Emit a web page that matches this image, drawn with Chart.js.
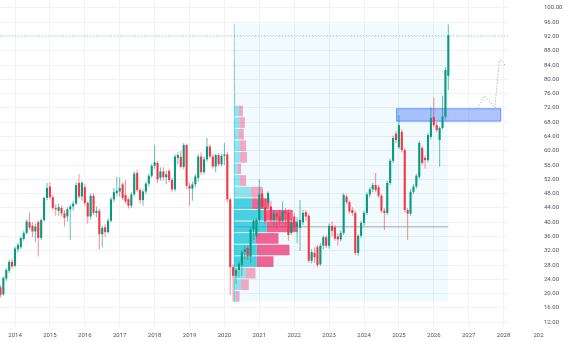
<!DOCTYPE html>
<html>
<head>
<meta charset="utf-8">
<script src="https://cdn.jsdelivr.net/npm/chart.js@4.4.1/dist/chart.umd.min.js"></script>
<style>
  html, body { margin: 0; padding: 0; background: #fff; }
  #wrap { width: 565px; height: 342px; position: relative; }
</style>
</head>
<body>
<div id="wrap"><canvas id="chart"></canvas></div>
<script>
// Monthly candles, first bar = Aug 2013
const firstMonth = 2013 + 7 / 12;

const open = [
  21.8, 19.8, 24.2, 26.4, 28.9,
  27.8, 32.4, 33.0, 35.3, 37.0, 40.0, 39.0, 37.4, 40.0, 35.6, 40.6, 46.8,
  50.0, 47.0, 44.0, 43.2, 44.0, 42.5, 41.6, 43.6, 44.4, 45.2, 51.0, 47.2,
  49.8, 45.4, 41.6, 47.4, 42.6, 43.2, 36.6, 38.6, 37.2, 40.4, 46.4, 48.2,
  48.6, 50.6, 47.6, 46.4, 44.6, 47.8, 53.8, 49.0, 46.2, 48.6, 50.8, 53.0,
  55.8, 56.6, 52.4, 54.2, 52.6, 54.4, 51.8, 49.2, 58.0, 58.3, 55.5, 61.6,
  50.2, 49.4, 50.6, 52.4, 58.4, 54.0, 57.6, 61.2, 58.4, 55.6, 58.8, 56.2,
  58.6, 59.0, 46.4, 27.4, 25.0, 26.6, 28.0, 31.6, 32.8, 30.4, 38.0, 36.2,
  40.6, 48.0, 44.2, 45.4, 44.4, 40.6, 42.4, 41.6, 40.4, 43.0, 42.6, 37.0,
  41.6, 38.8, 38.4, 40.0, 42.8, 41.8, 29.2, 31.4, 33.0, 28.2, 33.4, 35.8,
  33.4, 39.0, 38.6, 36.0, 35.2, 37.0, 47.2, 45.6, 43.4, 42.6, 31.4, 36.2,
  39.8, 42.6, 47.8, 49.2, 50.4, 49.8, 47.4, 43.2, 42.6, 51.0, 57.2, 64.8,
  61.0, 65.3, 60.2, 43.4, 42.4, 48.5, 50.0, 52.7, 60.8, 58.0, 57.4, 63.9,
  69.5, 67.2, 63.0, 66.4, 69.6, 81.0
];
const high = [
  22.4, 24.8, 27.2, 29.5, 29.8,
  33.2, 34.2, 36.0, 37.6, 40.8, 42.8, 40.0, 39.6, 40.6, 41.0, 47.2, 51.0,
  51.2, 47.6, 45.0, 45.2, 44.6, 43.4, 44.2, 45.0, 46.0, 51.2, 53.4, 51.6,
  50.6, 46.0, 48.0, 48.2, 44.4, 43.8, 39.0, 39.4, 41.0, 47.0, 49.6, 52.7,
  52.6, 51.2, 51.8, 47.0, 48.4, 54.2, 54.6, 49.6, 49.2, 51.4, 53.6, 56.4,
  61.6, 57.2, 55.4, 55.4, 54.4, 55.0, 52.4, 59.0, 59.6, 60.0, 62.2, 62.0,
  51.0, 51.4, 53.4, 59.0, 59.6, 58.4, 63.6, 61.8, 59.0, 59.2, 59.4, 59.2,
  62.2, 59.6, 46.8, 28.2, 27.4, 29.0, 32.2, 33.4, 33.6, 38.6, 40.8, 41.2,
  52.0, 49.2, 46.4, 48.6, 46.0, 43.4, 43.0, 43.4, 45.8, 44.0, 43.6, 41.0,
  42.6, 41.4, 46.2, 43.4, 43.4, 42.4, 32.4, 33.0, 33.6, 34.2, 36.2, 36.4,
  39.6, 40.2, 39.2, 36.8, 37.6, 48.2, 47.8, 46.0, 44.2, 43.2, 36.6, 40.4,
  43.2, 48.4, 49.8, 51.0, 53.8, 50.4, 48.0, 44.0, 51.6, 57.8, 64.2, 65.6,
  70.0, 66.0, 60.8, 44.0, 49.2, 50.6, 53.6, 62.8, 61.4, 58.6, 65.0, 72.3,
  75.0, 68.0, 66.8, 75.4, 83.4, 95.4
];
const low = [
  19.0, 19.4, 23.6, 25.8, 27.0,
  27.4, 31.5, 32.4, 34.8, 36.6, 37.8, 35.8, 34.5, 30.4, 35.0, 40.2, 46.2,
  46.4, 43.4, 41.8, 41.8, 41.6, 38.8, 40.2, 35.0, 43.2, 44.8, 46.6, 46.0,
  44.6, 39.6, 40.8, 42.0, 41.4, 32.4, 33.0, 35.8, 36.8, 40.0, 45.6, 47.4,
  47.2, 46.2, 45.2, 43.8, 44.0, 47.2, 48.4, 45.2, 44.6, 47.8, 50.0, 52.4,
  55.0, 51.0, 51.6, 51.6, 50.6, 51.2, 48.6, 48.6, 56.2, 55.2, 54.8, 49.4,
  44.6, 46.0, 49.8, 51.4, 53.2, 53.4, 57.0, 57.8, 55.0, 54.0, 55.6, 55.6,
  56.0, 45.6, 19.6, 17.8, 22.6, 24.6, 25.0, 29.6, 29.4, 28.6, 35.0, 35.4,
  40.0, 43.8, 39.6, 44.8, 40.0, 39.0, 38.2, 39.2, 39.6, 38.8, 34.8, 36.4,
  37.6, 34.2, 32.0, 39.2, 40.4, 28.6, 28.4, 28.6, 27.4, 27.8, 32.4, 32.8,
  32.6, 36.0, 34.8, 33.4, 34.6, 36.4, 45.0, 42.4, 41.8, 30.8, 30.6, 35.6,
  39.0, 42.0, 47.0, 48.4, 48.4, 46.8, 42.6, 37.8, 42.0, 50.4, 56.6, 62.2,
  60.4, 59.6, 42.8, 35.0, 41.8, 47.8, 49.4, 52.0, 56.0, 55.0, 56.8, 63.2,
  66.6, 65.2, 55.5, 66.0, 68.8, 77.0
];
const close = [
  19.6, 24.4, 26.6, 28.9, 27.6,
  32.6, 33.6, 35.6, 37.0, 40.2, 38.5, 37.4, 38.8, 35.6, 40.6, 46.8, 49.6,
  47.0, 44.0, 43.6, 44.2, 42.5, 41.2, 43.6, 44.4, 45.2, 50.4, 47.2, 51.0,
  45.4, 41.6, 47.4, 42.6, 43.2, 36.6, 38.4, 37.2, 40.4, 46.4, 48.4, 48.8,
  49.6, 46.8, 45.8, 44.6, 47.8, 53.6, 49.0, 46.2, 48.6, 50.8, 53.0, 55.8,
  56.8, 52.0, 54.2, 52.6, 53.4, 51.8, 49.2, 58.4, 58.8, 55.5, 61.6, 50.2,
  49.4, 50.6, 52.8, 58.4, 54.0, 57.6, 61.2, 58.4, 55.6, 58.8, 56.2, 58.6,
  59.0, 46.4, 27.4, 25.0, 26.6, 28.4, 31.6, 32.4, 30.4, 38.0, 40.4, 40.6,
  47.8, 44.2, 40.2, 48.2, 40.6, 42.4, 41.6, 40.2, 43.0, 42.4, 36.4, 39.8,
  38.8, 39.8, 40.6, 42.6, 41.6, 29.2, 31.6, 30.2, 28.0, 33.4, 35.8, 33.4,
  39.0, 37.6, 35.4, 35.2, 37.0, 47.6, 45.6, 43.0, 42.6, 31.4, 36.2, 39.8,
  42.6, 47.8, 49.2, 50.4, 49.0, 47.4, 43.2, 42.6, 51.0, 57.2, 63.6, 63.0,
  67.2, 60.2, 43.4, 42.4, 48.5, 50.0, 53.0, 62.2, 56.6, 57.4, 64.4, 69.2,
  67.2, 65.8, 66.4, 69.6, 82.6, 92.4
];
const months = open.map((_, i) => firstMonth + i / 12);
const lastClose = close[close.length - 1];

// Volume profile, rows from top to bottom
const vpRange = [17.6, 95.5];
const vpStart = 2020.27;
const volUp = [0.3, 0.3, 0.3, 0.6, 0.6, 0.6, 0.8, 5.0, 5.7, 5.0, 6.3, 6.3,
  4.0, 6.3, 17.3, 18.3, 30.7, 33.0, 21.7, 23.0, 23.0, 11.7, 7.3, 2.3];
const volDown = [0.2, 0.2, 0.2, 0.4, 0.4, 0.4, 0.6, 4.0, 5.3, 5.0, 6.0, 7.0,
  3.3, 6.0, 11.7, 17.4, 28.3, 31.0, 23.0, 32.7, 16.7, 10.0, 7.7, 3.4];
const valueAreaRows = [15, 20];

// Drawn zone and projected path
const zoneX = [2024.92, 2027.93];
const zoneY = [68.2, 71.9];
const pathX = [2027.26, 2027.45, 2027.75, 2027.88, 2027.97, 2028.04];
const pathY = [71.9, 75.4, 72.1, 85.4, 85.0, 84.0];

// Axis ticks
const priceTicks = [12, 16, 20, 24, 28, 32, 36, 40, 44, 48, 52, 56, 60, 64,
  68, 72, 76, 80, 84, 88, 92, 96, 100];
const yearTicks = [2014, 2015, 2016, 2017, 2018, 2019, 2020, 2021, 2022,
  2023, 2024, 2025, 2026, 2027, 2028, 2029];

const upColor = '#089981';
const downColor = '#f23645';
const gridColor = '#f0f2f5';
const labelFont = { family: 'Roboto', size: 6 };
const labelColor = '#50535e';

const rowH = (vpRange[1] - vpRange[0]) / volUp.length;
const rowCenter = i => vpRange[1] - (i + 0.5) * rowH;
const inValueArea = i => i >= valueAreaRows[0] && i <= valueAreaRows[1];
const totals = volUp.map((v, i) => v + volDown[i]);
const pocPrice = rowCenter(totals.indexOf(Math.max(...totals)));
const isUp = i => close[i] >= open[i];

const overlays = {
  id: 'overlays',
  beforeDatasetsDraw(chart) {
    const { ctx, chartArea, scales: { x, y } } = chart;
    ctx.save();
    // profile range background
    const bx0 = x.getPixelForValue(vpStart);
    const bx1 = x.getPixelForValue(months[months.length - 1]);
    const by0 = y.getPixelForValue(vpRange[1]);
    const by1 = y.getPixelForValue(vpRange[0]);
    ctx.fillStyle = 'rgba(0, 188, 212, 0.055)';
    ctx.fillRect(bx0, by0, bx1 - bx0, by1 - by0);
    ctx.strokeStyle = 'rgba(0, 188, 212, 0.3)';
    ctx.lineWidth = 1;
    ctx.beginPath();
    ctx.moveTo(Math.round(bx0) + 0.5, by0);
    ctx.lineTo(Math.round(bx0) + 0.5, by1);
    ctx.stroke();

    // last price line
    const py = Math.round(y.getPixelForValue(lastClose)) + 0.5;
    ctx.setLineDash([1, 2]);
    ctx.strokeStyle = 'rgba(8, 153, 129, 0.35)';
    ctx.beginPath();
    ctx.moveTo(chartArea.left, py);
    ctx.lineTo(chartArea.right, py);
    ctx.stroke();
    ctx.setLineDash([]);

    // zone rectangle
    const zx0 = x.getPixelForValue(zoneX[0]);
    const zx1 = x.getPixelForValue(zoneX[1]);
    const zy0 = y.getPixelForValue(zoneY[1]);
    const zy1 = y.getPixelForValue(zoneY[0]);
    ctx.fillStyle = 'rgba(41, 98, 255, 0.38)';
    ctx.fillRect(zx0, zy0, zx1 - zx0, zy1 - zy0);
    ctx.strokeStyle = 'rgba(41, 98, 255, 0.5)';
    ctx.strokeRect(zx0 + 0.5, zy0 + 0.5, zx1 - zx0 - 1, zy1 - zy0 - 1);
    ctx.restore();
  }
};

new Chart(document.getElementById('chart'), {
  data: {
    datasets: [
      {
        type: 'bar',
        label: 'body',
        data: months.map((x, i) => ({ x, y: [open[i], close[i]] })),
        backgroundColor: months.map((_, i) => isUp(i) ? upColor : downColor),
        grouped: false,
        barPercentage: 0.72,
        categoryPercentage: 1,
        minBarLength: 1,
        order: 0,
        xAxisID: 'x',
        yAxisID: 'y',
      },
      {
        type: 'bar',
        label: 'wick',
        data: months.map((x, i) => ({ x, y: [low[i], high[i]] })),
        backgroundColor: months.map((_, i) => isUp(i) ? 'rgba(8, 153, 129, 0.6)' : 'rgba(242, 54, 69, 0.55)'),
        grouped: false,
        barPercentage: 0.36,
        categoryPercentage: 1,
        inflateAmount: 0,
        order: 1,
        xAxisID: 'x',
        yAxisID: 'y',
      },
      {
        type: 'line',
        label: 'path',
        data: pathX.map((x, i) => ({ x, y: pathY[i] })),
        borderColor: '#8c98a4',
        borderWidth: 1,
        borderDash: [1, 2],
        pointRadius: 0,
        order: 0,
        xAxisID: 'x',
        yAxisID: 'y',
      },
      {
        type: 'bar',
        label: 'up volume',
        indexAxis: 'y',
        data: volUp.map((v, i) => ({ y: rowCenter(i), x: [0, v] })),
        backgroundColor: volUp.map((_, i) => inValueArea(i) ? 'rgba(0, 188, 212, 0.7)' : 'rgba(0, 188, 212, 0.4)'),
        grouped: false,
        barPercentage: 0.92,
        categoryPercentage: 1,
        order: 3,
        xAxisID: 'xv',
        yAxisID: 'yv',
      },
      {
        type: 'bar',
        label: 'down volume',
        indexAxis: 'y',
        data: volDown.map((v, i) => ({ y: rowCenter(i), x: [volUp[i], volUp[i] + v] })),
        backgroundColor: volDown.map((_, i) => inValueArea(i) ? 'rgba(233, 30, 99, 0.68)' : 'rgba(233, 30, 99, 0.38)'),
        grouped: false,
        barPercentage: 0.92,
        categoryPercentage: 1,
        order: 3,
        xAxisID: 'xv',
        yAxisID: 'yv',
      },
      {
        type: 'line',
        label: 'poc',
        data: [{ x: vpStart, y: pocPrice }, { x: months[months.length - 1], y: pocPrice }],
        borderColor: '#a3a7ae',
        borderWidth: 1,
        pointRadius: 0,
        order: 4,
        xAxisID: 'x',
        yAxisID: 'y',
      },
    ],
  },
  options: {
    responsive: true,
    maintainAspectRatio: false,
    animation: false,
    events: [],
    layout: { padding: 0 },
    plugins: {
      legend: { display: false },
      tooltip: { enabled: false },
    },
    scales: {
      x: {
        type: 'linear',
        position: 'bottom',
        min: 2013.57,
        max: 2028.126,
        offset: false,
        grid: {
          color: ctx => (ctx.tick && ctx.tick.value > 2028.5) ? 'rgba(0,0,0,0)' : gridColor,
          offset: false,
          drawTicks: false,
        },
        border: { display: false },
        ticks: {
          font: labelFont,
          color: labelColor,
          padding: 5,
          autoSkip: false,
          maxRotation: 0,
          callback: v => v === 2029 ? '202' : String(v),
        },
        afterBuildTicks: scale => { scale.ticks = yearTicks.map(v => ({ value: v })); },
        afterFit: scale => {
          scale.height = 15;
          scale.paddingLeft = 0;
          scale.paddingRight = 0;
        },
      },
      y: {
        type: 'linear',
        position: 'right',
        min: 10.64,
        max: 102.24,
        offset: false,
        grid: { color: gridColor, offset: false, drawTicks: false },
        border: { display: false },
        ticks: {
          font: labelFont,
          color: labelColor,
          padding: 36,
          callback: v => v.toFixed(2),
        },
        afterBuildTicks: scale => { scale.ticks = priceTicks.map(v => ({ value: v })); },
        afterFit: scale => {
          scale.width = 57;
          scale.paddingTop = 0;
          scale.paddingBottom = 0;
        },
      },
      xv: {
        type: 'linear',
        display: false,
        min: -233.8,
        max: 274.2,
        offset: false,
      },
      yv: {
        type: 'linear',
        display: false,
        min: 10.64,
        max: 102.24,
        offset: false,
      },
    },
  },
  plugins: [overlays],
});
</script>
</body>
</html>
